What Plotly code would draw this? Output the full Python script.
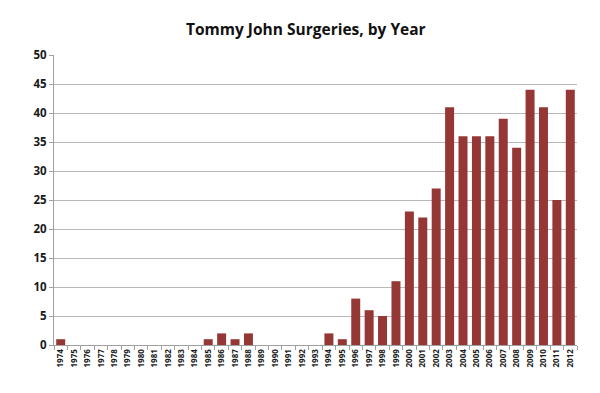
import plotly.graph_objects as go

years = [str(y) for y in range(1974, 2013)]
surgeries = [1, 0, 0, 0, 0, 0, 0, 0, 0, 0, 0, 1, 2, 1, 2, 0, 0, 0, 0, 0,
             2, 1, 8, 6, 5, 11, 23, 22, 27, 41, 36, 36, 36, 39, 34, 44, 41, 25, 44]
y_ticks = list(range(0, 55, 5))

fig = go.Figure(go.Bar(x=years, y=surgeries, marker_color="#953735",
                       marker_line_width=0))

fig.update_layout(
    width=584, height=377,
    paper_bgcolor="white", plot_bgcolor="white",
    margin=dict(l=46, r=15, t=47, b=40),
    bargap=0.33,
    showlegend=False,
    title=dict(text="<b>Tommy John Surgeries, by Year</b>", x=0.51, xanchor="center",
               y=0.942, yanchor="middle",
               font=dict(family="Open Sans", size=15.5, color="#111")),
    font=dict(family="Open Sans", color="#222"),
)
fig.update_xaxes(
    type="category", tickangle=-90, showline=True, linecolor="#a0a0a0", linewidth=1,
    ticks="outside", tickson="boundaries", ticklen=4, tickcolor="#a0a0a0",
    tickfont=dict(size=8, family="Open Sans", color="#1a1a1a", weight="bold"),
    showgrid=False, automargin=False,
)
fig.update_yaxes(
    range=[0, 50], tickvals=y_ticks, showline=True, linecolor="#a0a0a0", linewidth=1,
    ticks="outside", ticklen=4, tickcolor="#a0a0a0",
    gridcolor="#b8b8b8", gridwidth=1, zeroline=False,
    tickfont=dict(size=11.5, family="Open Sans", color="#1a1a1a", weight="bold"),
    automargin=False,
)
fig.write_html("out.html")
